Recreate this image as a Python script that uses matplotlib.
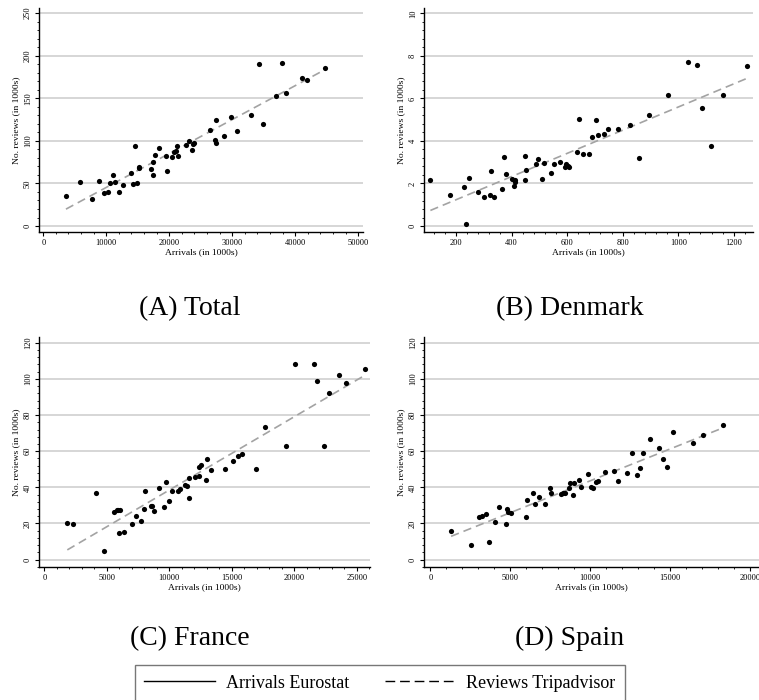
import numpy as np
import matplotlib
matplotlib.use("Agg")
import matplotlib.pyplot as plt
from matplotlib.lines import Line2D
from matplotlib.ticker import MultipleLocator, AutoMinorLocator

plt.rcParams['font.family'] = ['Liberation Serif', 'DejaVu Serif']

# (A) Total: arrivals (1000s) vs reviews (1000s)
total_arrivals = [3600, 5820, 7720, 8780, 9630, 10320, 10580, 11000, 11320, 12010,
                  12650, 13860, 14180, 14550, 14920, 15130, 15240, 17090, 17350, 17460,
                  17720, 18410, 19520, 19680, 20480, 20790, 21000, 21270, 21430, 22650,
                  23120, 23600, 23810, 23970, 26460, 27200, 27350, 27410, 28620, 29840,
                  30790, 32960, 34290, 34810, 36930, 37880, 38470, 41010, 41850, 44710]
total_reviews = [35.5, 52, 31.6, 52.3, 38.3, 39.5, 50, 60.2, 51.2, 39.5,
                 48.4, 62.5, 49.6, 93.4, 50.4, 67.6, 68.8, 66.8, 60.5, 75.4,
                 83.2, 91.8, 82, 64.8, 80.5, 87.1, 88.3, 94.5, 82.8, 94.9,
                 100.4, 89.8, 96.9, 98, 112.9, 101.6, 98, 124.2, 106.2, 127.7,
                 111.3, 130.5, 190.2, 120.3, 153.1, 191.8, 155.9, 173.8, 171.5, 185.5]

# (B) Denmark
dk_arrivals = [108, 179, 230, 235, 248, 281, 301, 321, 325, 338,
               365, 373, 379, 401, 408, 411, 412, 447, 450, 451,
               488, 497, 509, 516, 541, 554, 575, 592, 596, 602,
               606, 634, 642, 657, 679, 690, 703, 712, 734, 747,
               782, 827, 858, 896, 964, 1036, 1068, 1085, 1119, 1161, 1247]
dk_reviews = [2.16, 1.46, 1.82, 0.08, 2.24, 1.58, 1.35, 1.47, 2.60, 1.35,
              1.76, 3.24, 2.46, 2.23, 1.88, 2.16, 2.08, 3.29, 2.15, 2.65,
              2.92, 3.13, 2.19, 2.95, 2.51, 2.92, 3.03, 2.79, 2.90, 2.84,
              2.79, 3.50, 5.02, 3.40, 3.37, 4.20, 4.97, 4.26, 4.31, 4.56,
              4.55, 4.75, 3.20, 5.20, 6.18, 7.73, 7.55, 5.55, 3.78, 6.18, 7.54]

# (C) France
fr_arrivals = [1841, 2321, 4162, 4749, 5603, 5790, 5923, 6083, 6003, 6377,
               7044, 7337, 7737, 7977, 8057, 8511, 8591, 8778, 9151, 9551,
               9765, 9979, 10245, 10699, 10886, 11286, 11446, 11579, 11553, 12033,
               12407, 12407, 12567, 12913, 12993, 13367, 14434, 15101, 15528, 15822,
               16968, 17662, 19369, 20036, 21584, 21824, 22411, 22758, 23612, 24119, 25640]
fr_reviews = [20.3, 19.8, 36.6, 5.0, 26.6, 27.3, 27.7, 27.5, 14.6, 15.5,
              19.8, 24.0, 21.2, 28.2, 38.2, 29.5, 29.5, 27.0, 39.7, 29.2,
              43.2, 32.5, 38.0, 37.7, 39.0, 41.5, 40.8, 34.3, 44.9, 45.8,
              46.0, 51.5, 52.6, 44.1, 55.4, 49.8, 50.4, 54.8, 57.4, 58.3,
              50.4, 73.5, 63.1, 108.2, 108.2, 98.6, 62.8, 92.3, 102.1, 97.7, 105.6]

# (D) Spain
es_arrivals = [1295, 2569, 3029, 3238, 3468, 3656, 4032, 4303, 4700, 4805,
               4867, 5014, 5975, 6058, 6392, 6517, 6789, 7165, 7479, 7541,
               8147, 8293, 8398, 8669, 8753, 8920, 9004, 9275, 9442, 9839,
               10069, 10173, 10382, 10487, 10946, 11468, 11719, 12283, 12618, 12952,
               13098, 13328, 13766, 14289, 14539, 14832, 15187, 16440, 17025, 18320]
es_reviews = [15.7, 8.1, 23.3, 24.0, 25.3, 9.6, 20.9, 29.2, 19.8, 27.9,
              26.2, 26.0, 23.3, 33.2, 37.1, 30.5, 34.7, 30.8, 39.5, 36.7,
              36.4, 36.6, 36.7, 39.9, 42.5, 36.0, 42.5, 43.9, 40.4, 47.4,
              40.2, 39.9, 43.2, 43.4, 48.7, 49.3, 43.4, 48.0, 59.1, 46.7,
              50.6, 58.9, 66.6, 61.7, 55.6, 51.3, 70.5, 64.6, 69.0, 74.4]

titles = ['(A) Total', '(B) Denmark', '(C) France', '(D) Spain']

W, H = 759, 700
fig = plt.figure(figsize=(W / 100, H / 100), dpi=100)


def add_panel(left, right, top, bottom):
    return fig.add_axes([left / W, 1 - bottom / H, (right - left) / W, (bottom - top) / H])


def draw(ax, x, y, xlim, ylim, xmaj, ymaj):
    x = np.asarray(x, float)
    y = np.asarray(y, float)
    ax.set_axisbelow(True)
    ax.yaxis.grid(True, color='#d3d3d3', lw=1.3)
    ax.scatter(x, y, s=14, color='black', zorder=3, linewidths=0)
    b, a = np.polyfit(x, y, 1)
    xs = np.array([x.min(), x.max()])
    ax.plot(xs, a + b * xs, color='#a3a3a3', lw=1.2, ls=(0, (5, 3)), zorder=2)
    ax.set_xlim(*xlim)
    ax.set_ylim(*ylim)
    ax.xaxis.set_major_locator(MultipleLocator(xmaj))
    ax.yaxis.set_major_locator(MultipleLocator(ymaj))
    ax.xaxis.set_minor_locator(AutoMinorLocator(5))
    ax.yaxis.set_minor_locator(AutoMinorLocator(5))
    for s in ['top', 'right']:
        ax.spines[s].set_visible(False)
    for s in ['left', 'bottom']:
        ax.spines[s].set_linewidth(1.0)
    ax.tick_params(which='major', length=3, width=0.8, labelsize=6, pad=2)
    ax.tick_params(which='minor', length=1.6, width=0.6)
    ax.tick_params(axis='y', labelrotation=90)
    for lab in ax.get_yticklabels():
        lab.set_va('center')
    ax.set_xlabel('Arrivals (in 1000s)', fontsize=6.8, labelpad=1)
    ax.set_ylabel('No. reviews (in 1000s)', fontsize=6.8, labelpad=3)


axA = add_panel(39, 363, 8, 232)
draw(axA, total_arrivals, total_reviews, (-680, 50750), (-7, 256), 10000, 50)
axB = add_panel(424, 753, 8, 232)
draw(axB, dk_arrivals, dk_reviews, (85, 1269), (-0.28, 10.25), 200, 2)
axC = add_panel(39, 370, 337, 567)
draw(axC, fr_arrivals, fr_reviews, (-424, 26056), (-4.1, 123.2), 5000, 20)
axD = add_panel(424, 759, 337, 567)
draw(axD, es_arrivals, es_reviews, (-400, 20560), (-4.1, 123.2), 5000, 20)

for t, (cx, by) in zip(titles, [(190, 315), (570, 315), (190, 645), (570, 645)]):
    fig.text(cx / W, 1 - by / H, t, fontsize=20, ha='center', va='baseline')

handles = [Line2D([], [], color='black', lw=1.0),
           Line2D([], [], color='black', lw=1.0, ls=(0, (7, 3.5)))]
leg = fig.legend(handles, ['Arrivals Eurostat', 'Reviews Tripadvisor'],
                 loc='center', bbox_to_anchor=(380 / W, 1 - 683 / H), ncol=2,
                 frameon=True, fancybox=False, edgecolor='#555555', fontsize=13,
                 handlelength=3.9, handletextpad=0.6, columnspacing=2.0,
                 borderpad=0.5)
leg.get_frame().set_linewidth(1.0)

fig.savefig('out.png', dpi=100)
